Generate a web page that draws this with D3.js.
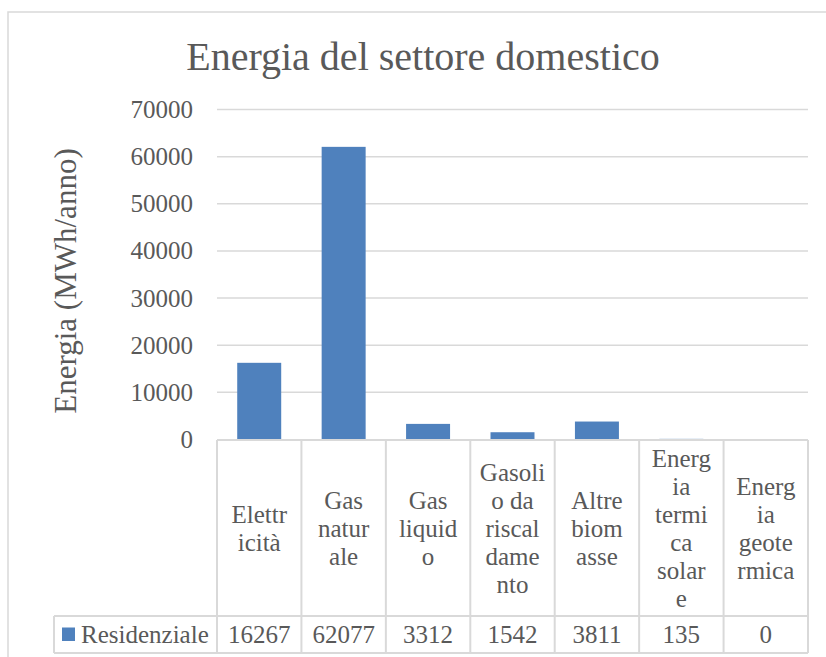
<!DOCTYPE html>
<html>
<head>
<meta charset="utf-8">
<script src="https://cdn.jsdelivr.net/npm/d3@7"></script>
<style>
  html, body { margin: 0; padding: 0; background: #ffffff; }
  svg { display: block; }
  text { font-family: "Liberation Serif", "DejaVu Serif", serif; fill: #595959; }
</style>
</head>
<body>
<svg id="chart" width="826" height="657"></svg>
<script>
// Household energy consumption by source (MWh/year)
const categories = [
  ["Elettr", "icità"],
  ["Gas", "natur", "ale"],
  ["Gas", "liquid", "o"],
  ["Gasoli", "o da", "riscal", "dame", "nto"],
  ["Altre", "biom", "asse"],
  ["Energ", "ia", "termi", "ca", "solar", "e"],
  ["Energ", "ia", "geote", "rmica"]
];
const seriesName = "Residenziale";
const values = [16267, 62077, 3312, 1542, 3811, 135, 0];
const yTicks = [0, 10000, 20000, 30000, 40000, 50000, 60000, 70000];
const title = "Energia del settore domestico";
const yTitle = "Energia (MWh/anno)";

const svg = d3.select("#chart");
const gridColor = "#d9d9d9";
const barColor = "#4f81bd";

// Plot area
const plot = { left: 217, right: 808, top: 109.5, bottom: 439.5 };
const table = { top: 440, headerBottom: 616, bottom: 653, legendLeft: 54 };

// Outer chart frame
svg.append("path")
  .attr("d", `M8,${657 + 5} L8,12 L${826 + 5},12`)
  .attr("fill", "none")
  .attr("stroke", gridColor)
  .attr("stroke-width", 1.5);

// Title
svg.append("text")
  .attr("x", 423)
  .attr("y", 70)
  .attr("text-anchor", "middle")
  .style("font-size", "40px")
  .text(title);

const x = d3.scaleBand()
  .domain(d3.range(categories.length))
  .range([plot.left, plot.right])
  .padding(0);

const y = d3.scaleLinear()
  .domain([0, 70000])
  .range([plot.bottom, plot.top]);

// Gridlines
svg.append("g")
  .selectAll("line")
  .data(yTicks.filter(d => d > 0))
  .join("line")
  .attr("x1", plot.left)
  .attr("x2", plot.right)
  .attr("y1", d => y(d))
  .attr("y2", d => y(d))
  .attr("stroke", gridColor)
  .attr("stroke-width", 1.5);

// Y axis labels
const yAxis = d3.axisLeft(y).tickValues(yTicks).tickSize(0).tickPadding(24).tickFormat(d3.format("d"));
const yg = svg.append("g")
  .attr("transform", `translate(${plot.left},0)`)
  .call(yAxis);
yg.select(".domain").remove();
yg.selectAll("text")
  .attr("fill", "#595959")
  .style("font-family", "'Liberation Serif', 'DejaVu Serif', serif")
  .style("font-size", "25px");

// Y axis title
svg.append("text")
  .attr("transform", `translate(76,281) rotate(-90)`)
  .attr("text-anchor", "middle")
  .style("font-size", "31px")
  .text(yTitle);

// Bars
const barW = x.bandwidth() * 0.521;
svg.append("g")
  .selectAll("rect")
  .data(values)
  .join("rect")
  .attr("x", (d, i) => x(i) + (x.bandwidth() - barW) / 2)
  .attr("y", d => y(d))
  .attr("width", barW)
  .attr("height", d => y(0) - y(d))
  .attr("fill", barColor);

// Data table
const tg = svg.append("g")
  .attr("fill", "none")
  .attr("stroke", gridColor)
  .attr("stroke-width", 2);

// horizontal lines
tg.append("line").attr("x1", plot.left).attr("x2", plot.right).attr("y1", table.top).attr("y2", table.top);
tg.append("line").attr("x1", table.legendLeft).attr("x2", plot.right).attr("y1", table.headerBottom).attr("y2", table.headerBottom);
tg.append("line").attr("x1", table.legendLeft).attr("x2", plot.right).attr("y1", table.bottom).attr("y2", table.bottom);
// vertical lines
const edges = d3.range(categories.length + 1).map(i => i < categories.length ? x(i) : plot.right);
tg.selectAll(".v")
  .data(edges)
  .join("line")
  .attr("x1", d => d).attr("x2", d => d)
  .attr("y1", table.top).attr("y2", table.bottom);
tg.append("line").attr("x1", table.legendLeft).attr("x2", table.legendLeft)
  .attr("y1", table.headerBottom).attr("y2", table.bottom);

// Category labels (wrapped) in header cells
const lineH = 28;
const headMid = (table.top + table.headerBottom) / 2;
const cg = svg.append("g");
categories.forEach((lines, i) => {
  const t = cg.append("text")
    .attr("text-anchor", "middle")
    .style("font-size", "25px");
  lines.forEach((ln, j) => {
    t.append("tspan")
      .attr("x", x(i) + x.bandwidth() / 2)
      .attr("y", headMid + (j - (lines.length - 1) / 2) * lineH)
      .attr("dy", "0.35em")
      .text(ln);
  });
});

// Value row
const valMid = (table.headerBottom + table.bottom) / 2;
svg.append("g")
  .selectAll("text")
  .data(values)
  .join("text")
  .attr("x", (d, i) => x(i) + x.bandwidth() / 2)
  .attr("y", valMid)
  .attr("dy", "0.35em")
  .attr("text-anchor", "middle")
  .style("font-size", "25px")
  .text(d => d3.format("d")(d));

// Legend key in the table
svg.append("rect")
  .attr("x", 62)
  .attr("y", 627.5)
  .attr("width", 13)
  .attr("height", 13.5)
  .attr("fill", barColor);
svg.append("text")
  .attr("x", 81)
  .attr("y", valMid)
  .attr("dy", "0.35em")
  .style("font-size", "25px")
  .text(seriesName);
</script>
</body>
</html>
